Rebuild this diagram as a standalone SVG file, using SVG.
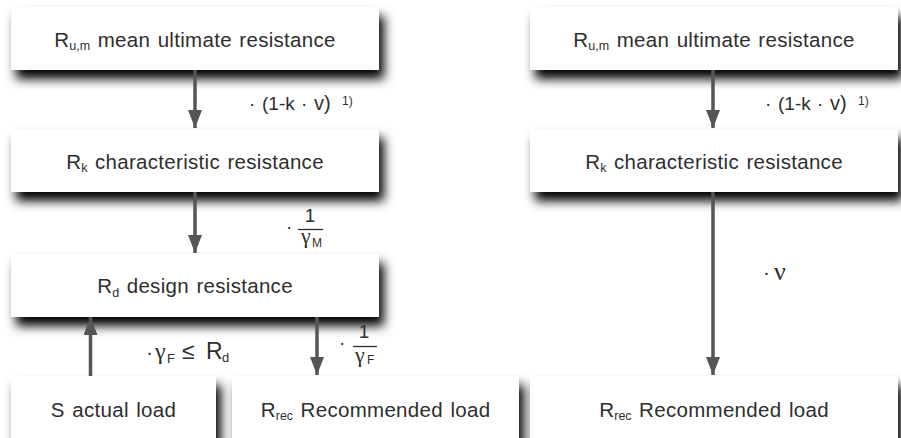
<svg xmlns="http://www.w3.org/2000/svg" width="901" height="438" viewBox="0 0 901 438">
  <style>
    .box { fill: #ffffff; filter: url(#shadow); }
    .t { font-family: "Liberation Sans", Arial, sans-serif; font-size: 20.5px; fill: #2e2e2e; text-anchor: middle; letter-spacing: 0.3px; word-spacing: 1.5px; }
    .sub { font-size: 12.5px; letter-spacing: 0; }
    .lbl { font-family: "Liberation Sans", Arial, sans-serif; fill: #2e2e2e; }
    .greek { font-family: "Liberation Serif", "Times New Roman", serif; }
    .conn { stroke: #555555; stroke-width: 3.5; fill: none; marker-end: url(#head); }
    .frac { stroke: #2e2e2e; stroke-width: 1.3; }
  </style>
  <defs>
    <filter id="shadow" x="-10%" y="-30%" width="130%" height="190%">
      <feGaussianBlur in="SourceAlpha" stdDeviation="5.5"/>
      <feOffset dx="5" dy="9" result="blur"/>
      <feComponentTransfer><feFuncA type="linear" slope="1"/></feComponentTransfer>
      <feMerge><feMergeNode/><feMergeNode in="SourceGraphic"/></feMerge>
    </filter>
    <marker id="head" viewBox="0 0 18 14" refX="18" refY="7" markerWidth="18" markerHeight="14" markerUnits="userSpaceOnUse" orient="auto">
      <path d="M0,0 L18,7 L0,14 z" fill="#555555"/>
    </marker>
  </defs>
  <rect width="901" height="438" fill="#ffffff"/>

  <!-- left column -->
  <g id="left-mean">
    <rect class="box" x="11" y="7" width="368" height="63"/>
    <text class="t" x="195" y="46.5">R<tspan class="sub" dy="3.5">u,m</tspan><tspan dy="-3.5"> mean ultimate resistance</tspan></text>
  </g>
  <g id="left-char">
    <rect class="box" x="11" y="129" width="368" height="63"/>
    <text class="t" x="195" y="168.5">R<tspan class="sub" dy="3.5">k</tspan><tspan dy="-3.5"> characteristic resistance</tspan></text>
  </g>
  <g id="left-design">
    <rect class="box" x="11" y="254" width="368" height="63"/>
    <text class="t" x="195" y="293">R<tspan class="sub" dy="3.5">d</tspan><tspan dy="-3.5"> design resistance</tspan></text>
  </g>
  <g id="left-actual">
    <rect class="box" x="11" y="376" width="205" height="70"/>
    <text class="t" x="113.5" y="416.5">S actual load</text>
  </g>
  <g id="left-recommended">
    <rect class="box" x="232" y="376" width="287" height="70"/>
    <text class="t" x="375.5" y="416.5">R<tspan class="sub" dy="3.5">rec</tspan><tspan dy="-3.5"> Recommended load</tspan></text>
  </g>

  <!-- right column -->
  <g id="right-mean">
    <rect class="box" x="530" y="7" width="368" height="63"/>
    <text class="t" x="714" y="46.5">R<tspan class="sub" dy="3.5">u,m</tspan><tspan dy="-3.5"> mean ultimate resistance</tspan></text>
  </g>
  <g id="right-char">
    <rect class="box" x="530" y="129" width="368" height="63"/>
    <text class="t" x="714" y="168.5">R<tspan class="sub" dy="3.5">k</tspan><tspan dy="-3.5"> characteristic resistance</tspan></text>
  </g>
  <g id="right-recommended">
    <rect class="box" x="530" y="376" width="368" height="70"/>
    <text class="t" x="714" y="416.5">R<tspan class="sub" dy="3.5">rec</tspan><tspan dy="-3.5"> Recommended load</tspan></text>
  </g>

  <!-- connectors -->
  <g id="connectors">
    <path class="conn" d="M195,70 L195,128"/>
    <path class="conn" d="M195,192 L195,253"/>
    <path class="conn" d="M90.5,376 L90.5,317"/>
    <path class="conn" d="M317,317 L317,375"/>
    <path class="conn" d="M713,70 L713,128"/>
    <path class="conn" d="M713,192 L713,375"/>
  </g>

  <!-- connector labels -->
  <g id="labels">
    <text class="lbl" style="font-size:19px" x="249" y="110">·</text>
    <text class="lbl" style="font-size:19px" x="262" y="110">(1-k</text>
    <text class="lbl" style="font-size:19px" x="301" y="110">·</text>
    <text class="lbl" style="font-size:20px" x="314" y="110">v)</text>
    <text class="lbl" style="font-size:12px" x="342" y="105">1)</text>

    <text class="lbl" style="font-size:19px" x="286" y="233">·</text>
    <text class="lbl" style="font-size:19px" x="310" y="221.5" text-anchor="middle">1</text>
    <line class="frac" x1="298" y1="229.5" x2="323" y2="229.5"/>
    <text class="lbl greek" style="font-size:22px" x="301" y="243">γ</text>
    <text class="lbl" style="font-size:12px" x="312" y="246.5">M</text>

    <text class="lbl" style="font-size:21px" x="146" y="359">·</text>
    <text class="lbl greek" style="font-size:24px" x="155" y="359">γ</text>
    <text class="lbl" style="font-size:13px" x="167" y="363">F</text>
    <text class="lbl" style="font-size:23px" x="182" y="359">≤</text>
    <text class="lbl" style="font-size:23px" x="206" y="358.5">R</text>
    <text class="lbl" style="font-size:13px" x="222" y="362">d</text>

    <text class="lbl" style="font-size:19px" x="339" y="349">·</text>
    <text class="lbl" style="font-size:19px" x="364" y="338" text-anchor="middle">1</text>
    <line class="frac" x1="353" y1="346.5" x2="377" y2="346.5"/>
    <text class="lbl greek" style="font-size:22px" x="355" y="362">γ</text>
    <text class="lbl" style="font-size:12px" x="367" y="364">F</text>

    <text class="lbl" style="font-size:19px" x="765" y="110">·</text>
    <text class="lbl" style="font-size:19px" x="778" y="110">(1-k</text>
    <text class="lbl" style="font-size:19px" x="817" y="110">·</text>
    <text class="lbl" style="font-size:20px" x="830" y="110">v)</text>
    <text class="lbl" style="font-size:12px" x="858" y="105">1)</text>

    <text class="lbl" style="font-size:21px" x="763" y="279">·</text>
    <text class="lbl greek" style="font-size:26px" x="774" y="280">ν</text>
  </g>
</svg>
